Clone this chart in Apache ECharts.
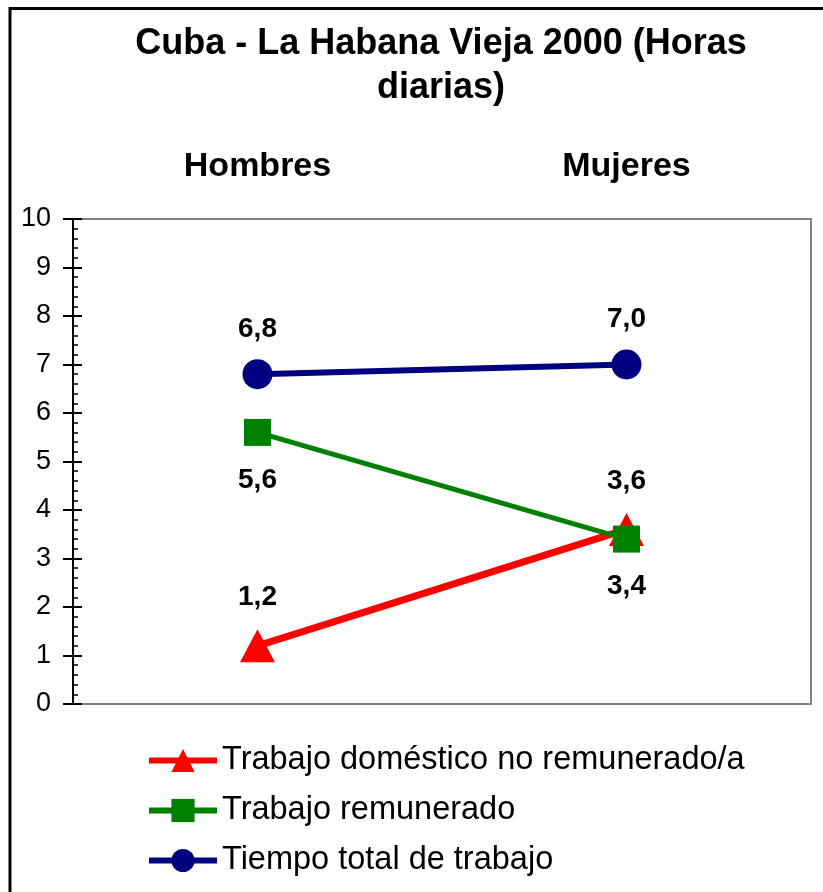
<!DOCTYPE html>
<html>
<head>
<meta charset="utf-8">
<script src="https://cdn.jsdelivr.net/npm/echarts@6/dist/echarts.min.js"></script>
<style>
  html, body { margin: 0; padding: 0; background: #fff; }
  #chart { width: 823px; height: 892px; }
</style>
</head>
<body>
<div id="chart"></div>
<script>
const categories = ['Hombres', 'Mujeres']
const domestico = [1.2, 3.6]
const remunerado = [5.6, 3.4]
const total = [6.8, 7.0]
const seriesNames = ['Trabajo doméstico no remunerado/a', 'Trabajo remunerado', 'Tiempo total de trabajo']

const font = 'Liberation Sans, Arial, sans-serif'

// etiqueta con coma decimal
const dataLabel = (position, distance) => ({
  show: true,
  position: position,
  distance: distance,
  fontFamily: font,
  fontSize: 28,
  fontWeight: 'bold',
  color: '#000',
  formatter: p => p.value.toFixed(1).replace('.', ',')
})

const chart = echarts.init(document.getElementById('chart'))
chart.setOption({
  animation: false,
  backgroundColor: '#fff',
  title: {
    text: 'Cuba - La Habana Vieja 2000 (Horas\ndiarias)',
    left: 441,
    top: 22,
    padding: 0,
    textAlign: 'center',
    textStyle: {
      fontFamily: font,
      fontSize: 36,
      fontWeight: 'bold',
      color: '#000',
      lineHeight: 44
    }
  },
  graphic: [
    {
      type: 'rect',
      shape: { x: 10, y: 8.5, width: 900, height: 950 },
      style: { fill: 'none', stroke: '#000', lineWidth: 3 },
      silent: true
    }
  ],
  legend: {
    data: seriesNames,
    orient: 'vertical',
    left: 141,
    top: 739,
    height: 160,
    itemWidth: 68,
    itemHeight: 29,
    itemGap: 17,
    lineStyle: { width: 6 },
    textStyle: { fontFamily: font, fontSize: 32.5, color: '#000' }
  },
  grid: {
    left: 73,
    right: 12,
    top: 219,
    bottom: 188,
    show: true,
    borderColor: '#808080',
    borderWidth: 2,
    backgroundColor: '#fff'
  },
  xAxis: {
    type: 'category',
    data: categories,
    position: 'top',
    boundaryGap: true,
    axisLine: { show: false },
    axisTick: { show: false },
    splitLine: { show: false },
    axisLabel: {
      fontFamily: font,
      fontSize: 34,
      fontWeight: 'bold',
      color: '#000',
      margin: 35
    }
  },
  yAxis: [
    {
      type: 'value',
      min: 0,
      max: 10,
      interval: 1,
      position: 'left',
      axisLine: { show: true, lineStyle: { color: '#000', width: 2 } },
      axisTick: { show: true, inside: false, length: 10, lineStyle: { color: '#000', width: 2 } },
      splitLine: { show: false },
      axisLabel: { fontFamily: font, fontSize: 27, color: '#000', margin: 22 }
    },
    {
      type: 'value',
      min: 0,
      max: 10,
      interval: 1,
      position: 'left',
      axisLine: { show: false },
      axisTick: { show: true, inside: true, length: 9, lineStyle: { color: '#000', width: 2 } },
      minorTick: { show: true, splitNumber: 5, length: 5, lineStyle: { color: '#000', width: 1.5 } },
      splitLine: { show: false },
      axisLabel: { show: false }
    }
  ],
  series: [
    {
      name: seriesNames[0],
      type: 'line',
      data: domestico,
      symbol: 'triangle',
      symbolSize: [35, 33],
      itemStyle: { color: '#FF0000' },
      lineStyle: { color: '#FF0000', width: 7 },
      label: dataLabel('top', 18)
    },
    {
      name: seriesNames[1],
      type: 'line',
      data: remunerado,
      symbol: 'rect',
      symbolSize: 27,
      itemStyle: { color: '#008000' },
      lineStyle: { color: '#008000', width: 5 },
      label: dataLabel('bottom', 20)
    },
    {
      name: seriesNames[2],
      type: 'line',
      data: total,
      symbol: 'circle',
      symbolSize: 30,
      itemStyle: { color: '#000080' },
      lineStyle: { color: '#000080', width: 6 },
      label: dataLabel('top', 16)
    }
  ]
})
</script>
</body>
</html>
